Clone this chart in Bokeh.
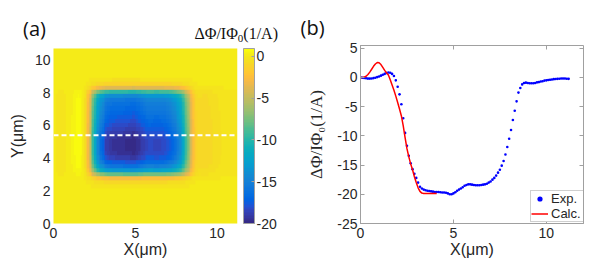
import numpy as np
from bokeh.plotting import figure
from bokeh.models import (LinearColorMapper, ColorBar, FixedTicker, Legend, LinearAxis,
                          LegendItem, Range1d, Span, Title, Div)
from bokeh.layouts import row, column
from bokeh.embed import file_html
from bokeh.resources import INLINE

# ---------------- data ----------------
# line profile along the dashed cut (experiment), x in um
exp_x = np.round(np.arange(0, 11.25, 0.1), 2)
exp_y = [0.0, -0.05, -0.1, -0.15, -0.2, -0.2, -0.18, -0.12, -0.05, 0.05,
         0.15, 0.3, 0.45, 0.6, 0.75, 0.85, 0.8, 0.6, 0.25, -0.5,
         -1.6, -2.9, -4.6, -7.0, -9.5, -11.7, -13.4, -14.7, -15.7, -16.5,
         -17.2, -18.0, -18.7, -19.0, -19.2, -19.3, -19.4, -19.45, -19.5, -19.55,
         -19.6, -19.6, -19.6, -19.65, -19.7, -19.7, -19.75, -19.85, -20.0, -20.0,
         -19.85, -19.65, -19.4, -19.2, -19.0, -18.8, -18.55, -18.4, -18.3, -18.3,
         -18.35, -18.4, -18.45, -18.45, -18.45, -18.4, -18.35, -18.3, -18.2, -18.0,
         -17.8, -17.5, -17.2, -16.8, -16.3, -15.8, -15.1, -14.3, -13.2, -11.9,
         -10.5, -9.0, -7.3, -5.7, -4.1, -2.6, -1.8, -1.2, -0.95, -0.9,
         -0.95, -1.0, -1.0, -1.0, -0.95, -0.85, -0.8, -0.7, -0.65, -0.55,
         -0.5, -0.45, -0.4, -0.35, -0.3, -0.28, -0.25, -0.22, -0.2, -0.2,
         -0.2, -0.22, -0.25]

# calculated profile
calc_x = np.round(np.arange(0, 4.15, 0.1), 2)
calc_y = [0.0, 0.0, 0.05, 0.2, 0.5, 0.9, 1.4, 1.9, 2.3, 2.55,
          2.5, 2.2, 1.7, 1.2, 0.8, 0.4, -0.4, -1.3, -2.2, -3.2,
          -4.3, -5.4, -6.6, -8.3, -10.3, -12.2, -13.6, -14.8, -15.8, -17.0,
          -18.0, -18.9, -19.5, -19.8, -19.85, -19.85, -19.85, -19.85, -19.85, -19.85,
          -19.85, -19.85]

# vertical weight of the map (read along a vertical cut), y in um
map_y = np.round(np.arange(0, 10.8, 0.25), 2)
map_w = [0, 0, 0, 0, 0, 0, 0, 0, 0, 0.01,
         0.04, 0.14, 0.42, 0.68, 0.82, 0.9, 0.96, 0.99, 1.0, 1.0,
         1.0, 0.99, 0.97, 0.95, 0.93, 0.91, 0.89, 0.87, 0.85, 0.83,
         0.8, 0.72, 0.5, 0.2, 0.06, 0.02, 0, 0, 0, 0,
         0, 0, 0, 0]

cut_y = 5.4
cbar_low, cbar_high = -20, 0.92
cbar_ticks = [-20, -15, -10, -5, 0]
a_xticks = [0, 5, 10]
a_yticks = [0, 2, 4, 6, 8, 10]
b_xticks = [0, 5, 10]
b_yticks = [-25, -20, -15, -10, -5, 0, 5]

# ---------------- style ----------------
parula_rgb = [
 (0.2081,0.1663,0.5292),(0.2116,0.1898,0.5777),(0.2123,0.2138,0.6270),(0.2081,0.2386,0.6771),
 (0.1959,0.2645,0.7279),(0.1707,0.2919,0.7792),(0.1253,0.3242,0.8303),(0.0591,0.3598,0.8683),
 (0.0117,0.3875,0.8820),(0.0060,0.4086,0.8828),(0.0165,0.4266,0.8786),(0.0329,0.4430,0.8720),
 (0.0498,0.4586,0.8641),(0.0629,0.4737,0.8554),(0.0723,0.4887,0.8467),(0.0779,0.5040,0.8384),
 (0.0793,0.5200,0.8312),(0.0749,0.5375,0.8263),(0.0641,0.5570,0.8240),(0.0488,0.5772,0.8228),
 (0.0343,0.5966,0.8199),(0.0265,0.6137,0.8135),(0.0239,0.6287,0.8038),(0.0231,0.6418,0.7913),
 (0.0228,0.6535,0.7768),(0.0267,0.6642,0.7607),(0.0384,0.6743,0.7436),(0.0590,0.6838,0.7254),
 (0.0843,0.6928,0.7062),(0.1133,0.7015,0.6859),(0.1453,0.7098,0.6646),(0.1801,0.7177,0.6424),
 (0.2178,0.7250,0.6193),(0.2586,0.7317,0.5954),(0.3022,0.7376,0.5712),(0.3482,0.7424,0.5473),
 (0.3953,0.7459,0.5244),(0.4420,0.7481,0.5033),(0.4871,0.7491,0.4840),(0.5300,0.7491,0.4661),
 (0.5709,0.7485,0.4494),(0.6099,0.7473,0.4337),(0.6473,0.7456,0.4188),(0.6834,0.7435,0.4044),
 (0.7184,0.7411,0.3905),(0.7525,0.7384,0.3768),(0.7858,0.7356,0.3633),(0.8185,0.7327,0.3498),
 (0.8507,0.7299,0.3360),(0.8824,0.7274,0.3217),(0.9139,0.7258,0.3063),(0.9450,0.7261,0.2886),
 (0.9739,0.7314,0.2666),(0.9938,0.7455,0.2403),(0.9990,0.7653,0.2164),(0.9955,0.7861,0.1967),
 (0.9880,0.8066,0.1794),(0.9789,0.8271,0.1633),(0.9697,0.8481,0.1475),(0.9626,0.8705,0.1309),
 (0.9589,0.8949,0.1132),(0.9598,0.9218,0.0948),(0.9661,0.9514,0.0755),(0.9763,0.9831,0.0538)]
parula = ["#%02x%02x%02x" % tuple(int(round(c * 255)) for c in rgb) for rgb in parula_rgb]

SANS = "Liberation Sans"
SERIF = "Liberation Serif"
TXT = "#262626"
LINE = "#a0a0a0"
WA, WB, H_HEAD, H_TOTAL = 298, 295, 44, 265


def hyphen_labels(ticks):
    return {t: str(t) for t in ticks}


def style_axis(ax, ticks):
    ax.ticker = FixedTicker(ticks=ticks)
    ax.major_label_overrides = hyphen_labels(ticks)
    ax.major_label_text_font = SANS
    ax.major_label_text_font_size = "14px"
    ax.major_label_text_color = TXT
    ax.axis_label_text_font = SANS
    ax.axis_label_text_font_size = "16px"
    ax.axis_label_text_font_style = "normal"
    ax.axis_label_text_color = TXT
    ax.axis_line_color = LINE
    ax.major_tick_line_color = LINE
    ax.minor_tick_line_color = None


# ---------------- header above panel (a): panel tag and colour-bar title ----------------
head_html = (
    f'<div style="position:relative;width:{WA}px;height:{H_HEAD}px;margin:0;padding:0;">'
    '<span style="position:absolute;left:23px;top:15px;font-family:\'Open Sans\';'
    'font-size:20px;line-height:28px;color:#111111;white-space:nowrap;">(a)</span>'
    '<span style="position:absolute;right:20px;top:25px;font-family:\'Liberation Serif\';'
    'font-size:16px;line-height:18px;color:#111111;white-space:nowrap;">'
    'ΔΦ/IΦ<sub style="font-size:11px;line-height:0;vertical-align:-3px;">0</sub>(1/A)</span>'
    '</div>')
head = Div(text=head_html, width=WA, height=H_HEAD, margin=0)

# ---------------- panel (a) ----------------
mapper = LinearColorMapper(palette=parula, low=cbar_low, high=cbar_high)
Z = np.outer(np.array(map_w), np.array(exp_y))

pa = figure(width=WA, height=H_TOTAL - H_HEAD, x_range=Range1d(0, 11.25),
            y_range=Range1d(0, 10.7), output_backend="svg", toolbar_location=None,
            min_border_left=53, min_border_right=61, min_border_top=4, min_border_bottom=42)
dx = exp_x[1] - exp_x[0]
dy = map_y[1] - map_y[0]
pa.image(image=[Z], x=exp_x[0] - dx / 2, y=map_y[0] - dy / 2,
         dw=dx * len(exp_x), dh=dy * len(map_y), color_mapper=mapper)
pa.add_layout(Span(location=cut_y, dimension="width", line_color="white",
                   line_dash="5 3", line_width=2))
pa.grid.visible = False
pa.outline_line_color = None
pa.xaxis.axis_label = "X(μm)"
pa.yaxis.axis_label = "Y(μm)"
style_axis(pa.xaxis[0], a_xticks)
style_axis(pa.yaxis[0], a_yticks)
for ax in (pa.xaxis[0], pa.yaxis[0]):
    ax.axis_line_color = None
    ax.major_tick_in = 0
    ax.major_tick_out = 0
pa.xaxis.major_label_standoff = 4
pa.xaxis.axis_label_standoff = 0
pa.yaxis.major_label_standoff = 3
pa.yaxis.axis_label_standoff = 6

cb = ColorBar(color_mapper=mapper, ticker=FixedTicker(ticks=cbar_ticks),
              major_label_overrides=hyphen_labels(cbar_ticks),
              width=11, height=175, padding=0, margin=0, location=(6, 0), label_standoff=2,
              major_label_text_font=SANS, major_label_text_font_size="14px",
              major_label_text_color=TXT, major_tick_line_color=LINE,
              major_tick_in=3, major_tick_out=0, bar_line_color=LINE,
              background_fill_alpha=0)
pa.add_layout(cb, "right")

# ---------------- panel (b) ----------------
pb = figure(width=WB, height=H_TOTAL, x_range=Range1d(0, 12), y_range=Range1d(-25, 5.46),
            output_backend="svg", toolbar_location=None,
            min_border_left=62, min_border_right=10, min_border_top=45, min_border_bottom=42)
sc = pb.scatter(exp_x, exp_y, marker="circle", size=2.6, color="#0000ff", line_color=None)
ln = pb.line(calc_x, calc_y, line_color="#ff0000", line_width=1.5)
pb.grid.visible = False
pb.outline_line_color = LINE
pb.xaxis.axis_label = "X(μm)"
pb.yaxis.axis_label = "ΔΦ/IΦ₀(1/A)"
style_axis(pb.xaxis[0], b_xticks)
style_axis(pb.yaxis[0], b_yticks)
for ax in (pb.xaxis[0], pb.yaxis[0]):
    ax.major_tick_in = 4
    ax.major_tick_out = 0
pb.yaxis.axis_label_text_font = SERIF
pb.yaxis.axis_label_text_font_size = "17px"
pb.xaxis.major_label_standoff = 4
pb.xaxis.axis_label_standoff = 0
pb.yaxis.major_label_standoff = 3
pb.yaxis.axis_label_standoff = 8

# box ticks on the top and right edges (labels not drawn)
for loc, ticks in (("above", b_xticks), ("right", b_yticks)):
    bax = LinearAxis(ticker=FixedTicker(ticks=ticks), major_label_text_font_size="1px",
                     major_label_text_color=None, major_label_standoff=0,
                     major_tick_in=4, major_tick_out=0,
                     axis_line_color=None, major_tick_line_color=LINE,
                     minor_tick_line_color=None)
    pb.add_layout(bax, loc)

pb.add_layout(Title(text="(b)", align="left", offset=-60, standoff=10,
                    text_font="Open Sans", text_font_size="20px",
                    text_font_style="normal", text_color="#111111"), "above")

legend = Legend(items=[LegendItem(label="Exp.", renderers=[sc]),
                       LegendItem(label="Calc.", renderers=[ln])],
                location=(170, 1), padding=0, spacing=0, margin=0,
                label_text_font=SANS, label_text_font_size="13px", label_text_color=TXT,
                glyph_width=17, glyph_height=13, label_height=13, label_standoff=3,
                label_width=33, border_line_color=LINE, background_fill_alpha=1)
pb.add_layout(legend)

layout = row(column(head, pa, spacing=0), pb, spacing=0)
open("out.html", "w").write(file_html(layout, INLINE))
